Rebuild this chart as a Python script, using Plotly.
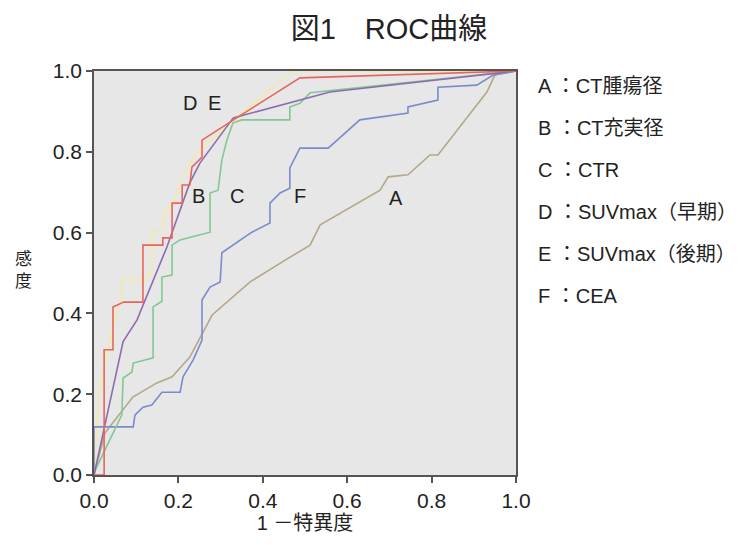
import plotly.graph_objects as go

# ROC curves (1 - specificity, sensitivity)
a_x = [0, 0.026, 0.092, 0.149, 0.185, 0.227, 0.28, 0.37, 0.453, 0.495, 0.512, 0.536, 0.678, 0.697, 0.744, 0.796, 0.815, 0.931, 0.95, 1.0]
a_y = [0, 0.104, 0.193, 0.228, 0.243, 0.292, 0.396, 0.478, 0.532, 0.557, 0.569, 0.619, 0.705, 0.738, 0.743, 0.792, 0.792, 0.948, 0.99, 1.0]

b_x = [0, 0.069, 0.102, 0.121, 0.173, 0.227, 0.251, 0.33, 0.559, 1.0]
b_y = [0, 0.33, 0.384, 0.433, 0.565, 0.723, 0.772, 0.884, 0.948, 1.0]

c_x = [0, 0.003, 0.066, 0.069, 0.09, 0.093, 0.14, 0.14, 0.161, 0.161, 0.185, 0.185, 0.204, 0.275, 0.275, 0.294, 0.303, 0.315, 0.329, 0.35, 0.464, 0.464, 0.488, 0.512, 1.0]
c_y = [0, 0.012, 0.149, 0.24, 0.255, 0.277, 0.29, 0.416, 0.43, 0.49, 0.495, 0.569, 0.582, 0.601, 0.698, 0.705, 0.78, 0.829, 0.871, 0.879, 0.879, 0.911, 0.92, 0.946, 1.0]

d_x = [0, 0.024, 0.024, 0.045, 0.045, 0.07, 0.116, 0.116, 0.163, 0.163, 0.185, 0.185, 0.209, 0.209, 0.227, 0.232, 0.256, 0.256, 0.338, 0.488, 1.0]
d_y = [0, 0, 0.31, 0.31, 0.416, 0.428, 0.428, 0.569, 0.569, 0.587, 0.587, 0.673, 0.673, 0.718, 0.718, 0.762, 0.787, 0.829, 0.884, 0.983, 1.0]

e_x = [0, 0.012, 0.03, 0.045, 0.066, 0.066, 0.114, 0.137, 0.137, 0.163, 0.163, 0.19, 0.21, 0.245, 0.338, 0.47, 1.0]
e_y = [0, 0.2, 0.3, 0.36, 0.45, 0.483, 0.483, 0.5, 0.606, 0.606, 0.64, 0.68, 0.74, 0.8, 0.884, 1.0, 1.0]

f_x = [0, 0, 0.093, 0.097, 0.116, 0.137, 0.161, 0.204, 0.211, 0.235, 0.256, 0.256, 0.275, 0.299, 0.303, 0.374, 0.417, 0.417, 0.441, 0.464, 0.464, 0.488, 0.555, 0.63, 0.744, 0.744, 0.815, 0.815, 0.907, 0.946, 1.0]
f_y = [0, 0.119, 0.119, 0.148, 0.168, 0.173, 0.205, 0.205, 0.243, 0.285, 0.334, 0.433, 0.465, 0.478, 0.55, 0.601, 0.624, 0.673, 0.698, 0.71, 0.76, 0.809, 0.809, 0.879, 0.896, 0.911, 0.928, 0.96, 0.965, 0.99, 1.0]

series_names = ["A", "B", "C", "D", "E", "F"]
legend_labels = ["A ：CT腫瘍径", "B ：CT充実径", "C ：CTR", "D ：SUVmax（早期）", "E ：SUVmax（後期）", "F ：CEA"]
curve_labels = ["D", "E", "B", "C", "F", "A"]
curve_label_x = [0.228, 0.286, 0.247, 0.338, 0.488, 0.716]
curve_label_y = [0.922, 0.922, 0.69, 0.69, 0.69, 0.686]
ticks = [0.0, 0.2, 0.4, 0.6, 0.8, 1.0]

colors = {"A": "#b5a888", "B": "#8e6bb0", "C": "#82c893", "D": "#e8655a", "E": "#f2eaa6", "F": "#7b8ccc"}
data = {"A": (a_x, a_y), "B": (b_x, b_y), "C": (c_x, c_y), "D": (d_x, d_y), "E": (e_x, e_y), "F": (f_x, f_y)}

FONT = "Liberation Sans, Arial, Noto Sans CJK JP"
fig = go.Figure()
for name in ["E", "A", "F", "C", "B", "D"]:
    xs, ys = data[name]
    fig.add_trace(go.Scatter(x=xs, y=ys, mode="lines", name=name,
                             line=dict(color=colors[name], width=1.6), showlegend=False))

for t, x, y in zip(curve_labels, curve_label_x, curve_label_y):
    fig.add_annotation(x=x, y=y, text=t, showarrow=False, xref="x", yref="y",
                       font=dict(family=FONT, size=20, color="#222"))

for i, lab in enumerate(legend_labels):
    fig.add_annotation(x=(536 - 94) / 422, y=(475 - (86 + 42 * i)) / 404, xref="paper", yref="paper",
                       text=lab, showarrow=False, xanchor="left", yanchor="middle",
                       font=dict(family=FONT, size=20, color="#222"))

fig.add_annotation(x=(13 - 94) / 422, y=(475 - 270) / 404, xref="paper", yref="paper", text="感<br>度",
                   showarrow=False, font=dict(family=FONT, size=17, color="#222"))

fig.update_layout(
    width=744, height=545,
    margin=dict(l=94, r=228, t=71, b=70),
    paper_bgcolor="white", plot_bgcolor="#e7e7e7",
    title=dict(text="図1　ROC曲線", x=389 / 744, xanchor="center", y=1 - 29 / 545, yanchor="middle",
               font=dict(family=FONT, size=29, color="#222")),
    font=dict(family=FONT, color="#222"),
)
fig.update_xaxes(range=[0, 1], tickvals=ticks, ticktext=[f"{t:.1f}" for t in ticks],
                 showgrid=False, zeroline=False, showline=True, linecolor="#555", linewidth=1.5,
                 mirror=True, ticks="outside", ticklen=6, tickcolor="#555", tickwidth=1.5,
                 tickfont=dict(size=21, family=FONT, color="#222"),
                 title=dict(text="1 －特異度", font=dict(size=20, family=FONT, color="#222"), standoff=4))
fig.update_yaxes(range=[0, 1], tickvals=ticks, ticktext=[f"{t:.1f}" for t in ticks],
                 showgrid=False, zeroline=False, showline=True, linecolor="#555", linewidth=1.5,
                 mirror=True, ticks="outside", ticklen=6, tickcolor="#555", tickwidth=1.5,
                 tickfont=dict(size=21, family=FONT, color="#222"))

fig.write_html("out.html")
